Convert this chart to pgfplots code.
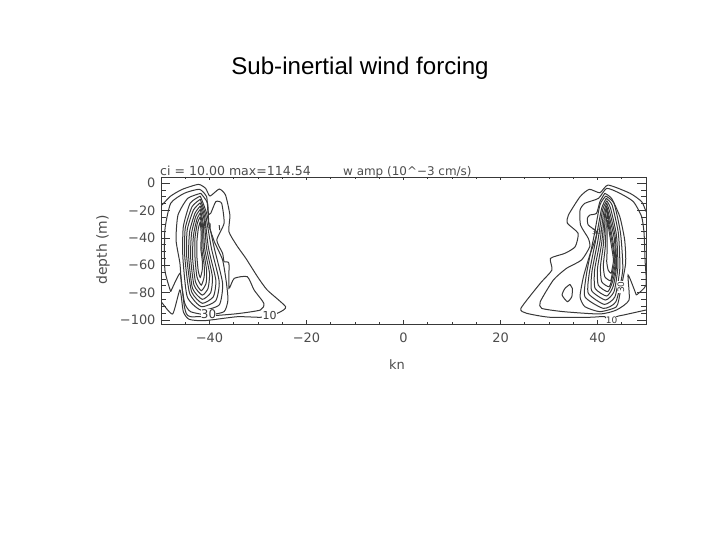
\documentclass[border=0pt]{standalone}
\usepackage{fontspec}
\setmainfont{DejaVu Sans}
\newfontfamily\titlefont{Liberation Sans}
\usepackage{pgfplots}
\pgfplotsset{compat=1.18}
\definecolor{ink}{gray}{0.22}
\definecolor{txt}{gray}{0.30}
\pgfplotsset{
  base/.style={at={(161bp,216bp)},anchor=south west,scale only axis,width=485bp,height=147bp,
    xmin=-50,xmax=50,ymin=-102.9,ymax=4.4,axis line style={ink,line width=0.8bp},
    tick style={ink,line width=0.6bp},tick align=inside,
    tick label style={font=\fontsize{13}{13}\selectfont,text=txt}},
  c/.style={ink,line width=1bp,smooth,tension=0.35,no markers},
}
\begin{document}
\begin{tikzpicture}[x=1bp,y=1bp]
\useasboundingbox (0,0) rectangle (720,540);
\begin{axis}[base,
  xtick={-40,-20,0,20,40},xticklabels={−40,−20,0,20,40},
  minor xtick={-50,-45,-35,-30,-25,-15,-10,-5,5,10,15,25,30,35,45,50},
  ytick=\empty,major tick length=3.5bp,minor tick length=2bp,
  xticklabel style={yshift=-5bp},
  ]
% left lobe
\addplot[c] coordinates {(-49.8,-16.1)(-48,-9.5)(-45.6,-4.6)(-42.3,-1)(-40.8,-3.9)(-39.9,-9.5)(-38,-4.4)(-36.7,-8.8)(-35.8,-23.4)(-36,-35.5)(-34.3,-46)(-32.5,-55)(-30.1,-68.4)(-28.1,-78.1)(-24.3,-90.3)(-25.7,-94.6)(-27.4,-96.3)(-29.5,-98)(-34.3,-97.6)(-41.1,-100.5)(-44.2,-99.5)(-45.4,-93.9)(-46.1,-78.1)(-47.6,-95.6)(-49.8,-87.3)};
\addplot[c] coordinates {(-48,-79.3)(-49.2,-63.5)(-49.2,-34.3)(-48,-14.8)(-45.2,-7.5)(-42.1,-4.6)(-40.6,-10)(-40.3,-22.1)(-39.75,-22.1)(-38.7,-13.6)(-37.5,-14.8)(-37,-29.4)(-38.5,-41.6)(-37.3,-51.3)(-37,-57.4)(-36,-58.6)(-36,-76.9)(-34.9,-69.6)(-32.2,-68.4)(-30.8,-78.1)(-28.8,-87.8)(-29.5,-92.7)(-34.9,-95.6)(-43.9,-97.6)(-45.1,-91.5)(-45.6,-78.1)(-46.1,-65.9)(-48,-79.3)};
\addplot[c] coordinates {(-41.8,-7.5)(-44.5,-11.2)(-46.5,-23.4)(-46.9,-41.6)(-46.1,-58.6)(-45.8,-73.2)(-45.1,-87.8)(-43.9,-93.9)(-40.4,-96.3)(-37,-93.9)(-36.2,-85.4)(-36.5,-73.2)(-37.3,-56.2)(-39,-42.8)(-40.1,-30.7)(-40.4,-14.8)(-41.8,-7.5)};
\addplot[c] coordinates {(-38,-30.7)(-37.9,-34.3)};
\addplot[c] coordinates {(-41.9,-9.5)(-44,-14.8)(-45.4,-31.9)(-45.5,-53.8)(-44.6,-83)(-41.8,-92.7)(-38,-89)(-37.3,-73.2)(-39,-47.7)(-40.6,-22.1)(-41.9,-9.5)};
\addplot[c] coordinates {(-41.9,-11.9)(-43.6,-17.3)(-45,-33.1)(-45.1,-53.8)(-44.1,-80.5)(-41.7,-90.3)(-38.7,-85.9)(-38,-72)(-39.6,-47.7)(-40.8,-23.4)(-41.9,-11.9)};
\addplot[c] coordinates {(-41.9,-14.4)(-43.3,-19.7)(-44.6,-34.3)(-44.7,-53.8)(-43.7,-79.3)(-41.5,-87.8)(-39.2,-83)(-38.7,-70.8)(-40.2,-47.7)(-41,-24.6)(-41.9,-14.4)};
\addplot[c] coordinates {(-41.9,-16.8)(-43,-22.1)(-44.1,-35.5)(-44.3,-53.8)(-43.5,-76.9)(-41.5,-84.9)(-39.75,-80)(-39.4,-68.4)(-40.6,-47.7)(-41.1,-27)(-41.9,-16.8)};
\addplot[c] coordinates {(-41.9,-19.2)(-42.8,-24.1)(-43.7,-36.7)(-43.9,-53.8)(-43.2,-74.5)(-41.5,-81.8)(-40.3,-76.9)(-40,-65.9)(-41,-47.7)(-41.3,-29.4)(-41.9,-19.2)};
\addplot[c] coordinates {(-41.9,-21.7)(-42.6,-26.5)(-43.3,-38)(-43.5,-53.8)(-42.9,-72)(-41.7,-78.6)(-40.7,-73.2)(-40.6,-63.5)(-41.3,-47.7)(-41.4,-31.9)(-41.9,-21.7)};
\addplot[c] coordinates {(-41.9,-24.6)(-42.5,-29.4)(-43,-40.4)(-43,-53.8)(-42.6,-68.4)(-41.7,-74.5)(-41.1,-68.4)(-41.1,-59.9)(-41.6,-47.7)(-41.5,-35.5)(-41.9,-24.6)};
\addplot[c] coordinates {(-41.9,-28.2)(-42.3,-33.1)(-42.6,-42.8)(-42.6,-53.8)(-42.3,-64.7)(-41.9,-68.9)(-41.5,-63.5)(-41.5,-56.2)(-41.8,-47.7)(-41.7,-38)(-41.9,-28.2)};
% right lobe
\addplot[c] coordinates {(50,-20.9)(49.1,-13.6)(46.7,-7.5)(42.2,-1.5)(40.5,-7.1)(38.3,-4.6)(36.4,-10)(34,-23.4)(33.8,-29.4)(36,-36.7)(35.4,-46.5)(33.3,-51.3)(30.3,-55)(30.6,-63.5)(28.2,-73.2)(24.2,-91.5)(25.4,-95.1)(30.2,-98)(38.4,-98)(41.5,-97.6)(42.4,-102.4)};
\addplot[c] coordinates {(43.6,-102.4)(43.9,-97.6)(45.3,-96.4)(50,-92.7)};
\addplot[c] coordinates {(48,-81.8)(50,-74.5)(49.8,-56.2)(49.6,-36.7)(49.1,-24.6)(47.4,-13.6)(44.6,-7.5)(41.9,-3.9)(40.2,-11.2)(37.4,-14.8)(36.4,-19.7)(36.5,-30.7)(38.1,-40.4)(38.4,-46.5)(36.7,-56.2)(33.6,-62.3)(30.9,-70.8)(28.2,-86.6)(28.5,-91.5)(33,-93.9)(40.5,-95.6)(43.9,-92.7)(46.5,-85.4)(46.3,-67.1)(48,-81.8)};
\addplot[c] coordinates {(34.3,-74)(33.3,-76.9)(32.7,-81.8)(33.8,-86.6)(34.7,-83)(34.8,-76.9)(34.3,-74)};
\addplot[c] coordinates {(41.5,-7.5)(40.5,-13.6)(39.8,-22.1)(38.4,-23.4)(37.9,-25.8)(38.1,-30.7)(39.8,-35.5)(39.5,-41.6)(38.3,-53.8)(37.1,-68.4)(36.4,-83)(37.4,-90.3)(40.5,-93.9)(43.9,-90.3)(44.7,-79.3)(45.8,-58.6)(45.6,-41.6)(44.6,-24.6)(42.9,-11.2)(41.5,-7.5)};
\addplot[c] coordinates {(41.7,-9.5)(40.5,-16)(39.25,-39.2)(37.75,-65.9)(37.4,-83)(41.2,-91.5)(43.8,-86.6)(45.2,-63.5)(44.75,-36.7)(43.4,-14.8)(41.7,-9.5)};
\addplot[c] coordinates {(41.8,-11.2)(40.85,-18.5)(39.7,-40.4)(38.3,-65.9)(38.1,-80.5)(41.4,-88.6)(43.6,-83)(44.6,-62.3)(44.3,-36.7)(43,-16)(41.8,-11.2)};
\addplot[c] coordinates {(41.9,-12.9)(41.05,-19.7)(40.1,-41.6)(38.85,-64.7)(38.8,-78.6)(41.65,-85.4)(43.4,-79.3)(44.2,-61.1)(43.9,-38)(42.7,-18.5)(41.9,-12.9)};
\addplot[c] coordinates {(41.9,-14.8)(41.25,-21.7)(40.5,-42.8)(39.4,-63.5)(39.5,-76.9)(41.9,-82.5)(43.2,-75.7)(43.9,-61.1)(43.65,-39.2)(42.5,-20.9)(41.9,-14.8)};
\addplot[c] coordinates {(41.9,-16.8)(41.45,-23.4)(40.85,-44)(40,-62.3)(40.15,-74.5)(42.1,-79.3)(43.1,-72)(43.8,-59.9)(43.45,-40.4)(42.35,-23.4)(41.9,-16.8)};
\addplot[c] coordinates {(41.9,-19)(41.6,-25.1)(41.2,-45.3)(40.6,-61.1)(40.85,-72)(42.4,-75.7)(43.1,-68.4)(43.65,-58.6)(43.2,-42.8)(42.3,-25.8)(41.9,-19)};
\addplot[c] coordinates {(42,-22.1)(41.8,-28.2)(41.6,-46.5)(41.2,-59.9)(41.5,-68.4)(42.7,-71.3)(43.1,-64.7)(43.5,-57.4)(43.1,-45.3)(42.3,-29.4)(42,-22.1)};
\addplot[c] coordinates {(42.07,-27)(42,-31.9)(42,-47.7)(41.9,-57.4)(42.2,-63.5)(42.8,-65.9)(43.1,-61.1)(43.3,-56.2)(42.9,-46.5)(42.35,-34.3)(42.07,-27)};
% contour labels
\node[fill=white,inner sep=0.3bp,text=ink,font=\fontsize{12}{12}\selectfont] at (axis cs:-40.2,-95.8) {30};
\node[fill=white,inner sep=0.3bp,text=ink,font=\fontsize{11}{11}\selectfont] at (axis cs:-27.6,-96.8) {10};
\node[inner sep=0.2bp,text=ink,font=\fontsize{7}{7}\selectfont] at (axis cs:-40.5,-31) {30};
\node[inner sep=0.2bp,text=ink,font=\fontsize{7}{7}\selectfont] at (axis cs:39.8,-36) {30};
\node[fill=white,inner sep=0.2bp,text=ink,font=\fontsize{9}{9}\selectfont,rotate=90] at (axis cs:44.8,-76) {30};
\node[fill=white,inner sep=0.2bp,text=ink,font=\fontsize{9}{9}\selectfont] at (axis cs:42.9,-100.5) {10};
\end{axis}
\begin{axis}[base,
  xtick=\empty,
  ytick={-100,-80,-60,-40,-20,0},yticklabels={−100,−80,−60,−40,−20,0},
  minor ytick={-95,-90,-85,-75,-70,-65,-55,-50,-45,-35,-30,-25,-15,-10,-5},
  major tick length=9bp,minor tick length=5bp,
  yticklabel style={xshift=-2bp},
  ]
\end{axis}
\node[font=\titlefont\fontsize{24.2}{24.2}\selectfont,text=black] at (360,472) {Sub-inertial wind forcing};
\node[anchor=base west,inner sep=0,text=txt,font=\fontsize{12.6}{12.6}\selectfont] at (160,364) {ci = 10.00 max=114.54};
\node[anchor=base west,inner sep=0,text=txt,font=\fontsize{12}{12}\selectfont] at (343,364) {w amp (10\^{}−3 cm/s)};
\node[rotate=90,text=txt,font=\fontsize{14}{14}\selectfont] at (103,290) {depth (m)};
\node[text=txt,font=\fontsize{13}{13}\selectfont] at (397,175) {kn};
\end{tikzpicture}
\end{document}
